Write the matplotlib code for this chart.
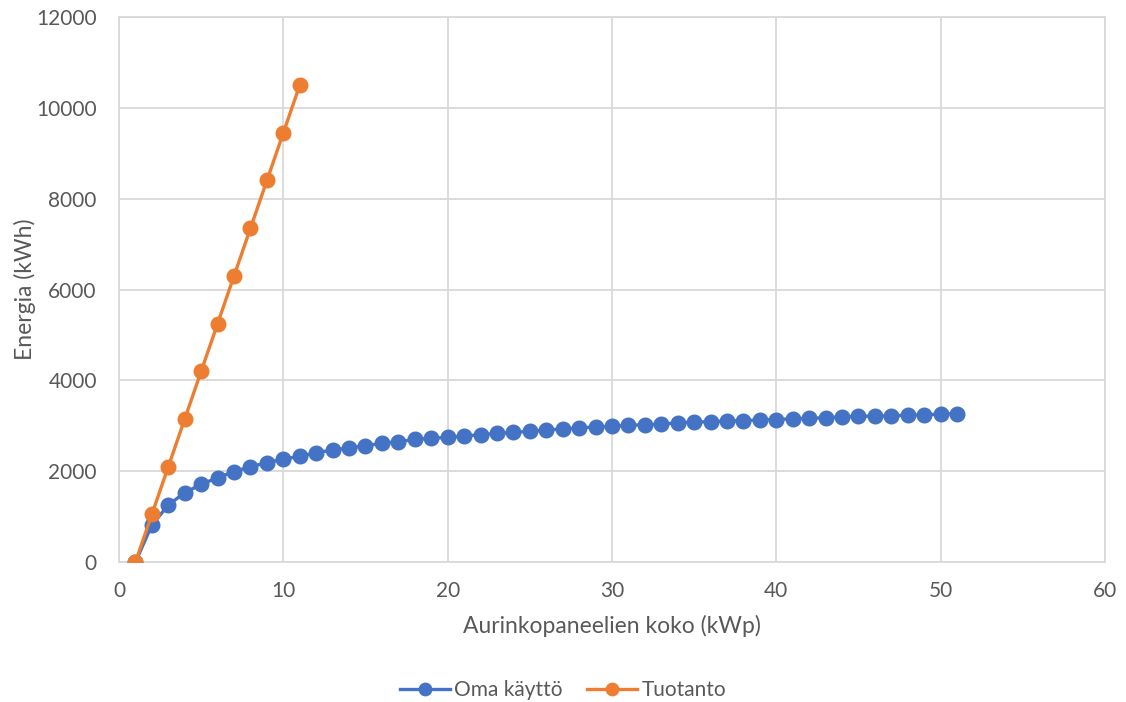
import matplotlib.pyplot as plt

plt.rcParams['font.family'] = ['Lato', 'DejaVu Sans']

koko_oma = list(range(1, 52))
oma_kaytto = [0, 815, 1255, 1527, 1710, 1857, 1990, 2100, 2187, 2268,
              2325, 2407, 2466, 2510, 2561, 2613, 2649, 2700, 2723, 2745,
              2774, 2803, 2833, 2855, 2877, 2907, 2929, 2951, 2975, 2985,
              3010, 3024, 3039, 3061, 3080, 3090, 3105, 3115, 3127, 3135,
              3156, 3160, 3180, 3193, 3210, 3212, 3218, 3235, 3240, 3259,
              3266]

koko_tuotanto = list(range(1, 12))
tuotanto = [0, 1050, 2100, 3150, 4200, 5250, 6300, 7350, 8400, 9450, 10500]

sininen = '#4472c4'
oranssi = '#ed7d31'
harmaa = '#d9d9d9'
teksti = '#595959'

fig, ax = plt.subplots(figsize=(11.26, 7.02), dpi=100)
fig.subplots_adjust(left=0.1057, right=0.9813, top=0.9758, bottom=0.1994)

ax.plot(koko_oma, oma_kaytto, color=sininen, lw=2.4, marker='o', ms=10.5,
        label='Oma käyttö', zorder=3)
ax.plot(koko_tuotanto, tuotanto, color=oranssi, lw=2.4, marker='o', ms=10.5,
        label='Tuotanto', zorder=4)

ax.set_xlim(0, 60)
ax.set_ylim(0, 12000)
ax.set_xticks(range(0, 61, 10))
ax.set_yticks(range(0, 12001, 2000))
ax.grid(True, color=harmaa, lw=1.3)
ax.set_axisbelow(True)
for s in ax.spines.values():
    s.set_color(harmaa)
    s.set_linewidth(1.3)
ax.tick_params(length=0, labelsize=15, labelcolor=teksti)
ax.tick_params(axis='x', pad=14)
ax.tick_params(axis='y', pad=16)

ax.set_xlabel('Aurinkopaneelien koko (kWp)', fontsize=16.5, color=teksti, labelpad=10)
ax.set_ylabel('Energia (kWh)', fontsize=16.5, color=teksti)
ax.yaxis.set_label_coords(-0.084, 0.5)

fig.legend(loc='center', bbox_to_anchor=(0.5, 0.017), ncol=2, frameon=False,
           fontsize=15, labelcolor=teksti, handlelength=2.4, handletextpad=0.2,
           columnspacing=1.2, markerscale=0.85)

plt.savefig('out.png', dpi=100)
